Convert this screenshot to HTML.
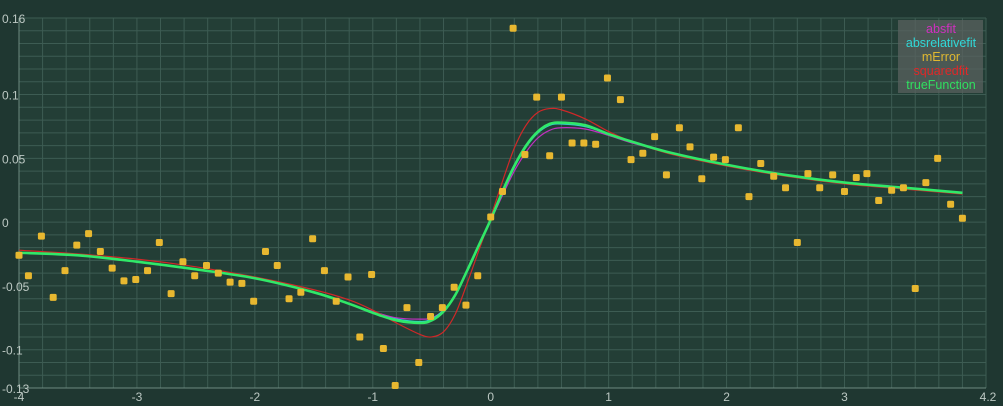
<!DOCTYPE html>
<html><head><meta charset="utf-8"><style>
html,body{margin:0;padding:0;background:#1e3530;}
svg{display:block;font-family:"Liberation Sans",sans-serif;}
</style></head><body>
<svg id="chart" width="1003" height="406" xmlns="http://www.w3.org/2000/svg">
<rect x="0" y="0" width="1003" height="406" fill="#1f3731"/>
<rect x="19" y="18" width="967" height="370" fill="#233e36"/>
<g id="grid"></g>
<g id="axes"></g>
<g id="series"></g>
<g id="points"></g>
<g>
<rect x="898" y="20" width="85" height="73" fill="#5a625f" fill-opacity="0.75"/>
<text x="941" y="33" fill="#d030c0" font-size="12.5" text-anchor="middle">absfit</text>
<text x="941" y="47" fill="#30d8d8" font-size="12.5" text-anchor="middle">absrelativefit</text>
<text x="941" y="61" fill="#e0b830" font-size="12.5" text-anchor="middle">mError</text>
<text x="941" y="75" fill="#e02828" font-size="12.5" text-anchor="middle">squaredfit</text>
<text x="941" y="89" fill="#30e060" font-size="12.5" text-anchor="middle">trueFunction</text>
</g>
</svg>
<script>
const curveX=[-4,-3.5,-3,-2.5,-2,-1.5,-1.2,-1,-0.8,-0.6,-0.5,-0.4,-0.3,-0.2,-0.1,0,0.1,0.2,0.3,0.4,0.5,0.6,0.8,1,1.2,1.5,2,2.5,3,3.5,4.0];
const trueY=[-0.024,-0.026,-0.031,-0.037,-0.044,-0.055,-0.064,-0.071,-0.077,-0.079,-0.077,-0.070,-0.057,-0.038,-0.018,0.002,0.024,0.044,0.060,0.071,0.077,0.078,0.076,0.069,0.063,0.055,0.045,0.037,0.031,0.027,0.023];
const absY=[-0.024,-0.026,-0.031,-0.037,-0.044,-0.055,-0.064,-0.070,-0.075,-0.076,-0.075,-0.069,-0.057,-0.039,-0.019,0.001,0.021,0.040,0.055,0.066,0.072,0.074,0.073,0.068,0.062,0.055,0.045,0.037,0.031,0.027,0.023];
const absRelY=[-0.024,-0.026,-0.031,-0.037,-0.044,-0.055,-0.064,-0.071,-0.076,-0.078,-0.076,-0.069,-0.057,-0.038,-0.018,0.002,0.023,0.043,0.059,0.070,0.076,0.077,0.075,0.069,0.063,0.055,0.045,0.037,0.031,0.027,0.023];
const sqY=[-0.022,-0.025,-0.029,-0.035,-0.043,-0.053,-0.061,-0.069,-0.079,-0.088,-0.090,-0.086,-0.072,-0.048,-0.022,0.004,0.032,0.058,0.076,0.086,0.089,0.088,0.081,0.071,0.063,0.054,0.044,0.036,0.030,0.026,0.022];
const ptX=[-4.0,-3.92,-3.81,-3.71,-3.61,-3.51,-3.41,-3.31,-3.21,-3.11,-3.01,-2.91,-2.81,-2.71,-2.61,-2.51,-2.41,-2.31,-2.21,-2.11,-2.01,-1.91,-1.81,-1.71,-1.61,-1.51,-1.41,-1.31,-1.21,-1.11,-1.01,-0.91,-0.81,-0.71,-0.61,-0.51,-0.41,-0.31,-0.21,-0.11,0.0,0.10,0.19,0.29,0.39,0.50,0.60,0.69,0.79,0.89,0.99,1.10,1.19,1.29,1.39,1.49,1.60,1.69,1.79,1.89,1.99,2.10,2.19,2.29,2.40,2.50,2.60,2.69,2.79,2.90,3.00,3.10,3.19,3.29,3.40,3.50,3.60,3.69,3.79,3.90,4.00];
const ptY=[-0.026,-0.042,-0.011,-0.059,-0.038,-0.018,-0.009,-0.023,-0.036,-0.046,-0.045,-0.038,-0.016,-0.056,-0.031,-0.042,-0.034,-0.040,-0.047,-0.048,-0.062,-0.023,-0.034,-0.060,-0.055,-0.013,-0.038,-0.062,-0.043,-0.090,-0.041,-0.099,-0.128,-0.067,-0.110,-0.074,-0.067,-0.051,-0.065,-0.042,0.004,0.024,0.152,0.053,0.098,0.052,0.098,0.062,0.062,0.061,0.113,0.096,0.049,0.054,0.067,0.037,0.074,0.059,0.034,0.051,0.049,0.074,0.020,0.046,0.036,0.027,-0.016,0.038,0.027,0.037,0.024,0.035,0.038,0.017,0.025,0.027,-0.052,0.031,0.050,0.014,0.003];
const xTicks=[-4,-3,-2,-1,0,1,2,3];
const xTickLabels=["-4","-3","-2","-1","0","1","2","3"];
const yTicks=[0.16,0.1,0.05,0,-0.05,-0.1,-0.13];
const yTickLabels=["0.16","0.1","0.05","0","-0.05","-0.1","-0.13"];

const L=19,R=986,T=18,B=388,XMIN=-4,XMAX=4.2,YMIN=-0.13,YMAX=0.16;
const sx=v=>L+(v-XMIN)/(XMAX-XMIN)*(R-L);
const sy=v=>B-(v-YMIN)/(YMAX-YMIN)*(B-T);
const NS="http://www.w3.org/2000/svg";
function mk(tag,parent,attrs){const e=document.createElementNS(NS,tag);for(const k in attrs)e.setAttribute(k,attrs[k]);parent.appendChild(e);return e;}
const grid=document.getElementById('grid');
for(let i=0;i<=41;i++){const v=XMIN+i*0.2;const l=mk('line',grid,{x1:sx(v),x2:sx(v),y1:T,y2:B,stroke:'#3d5c53','stroke-width':1});

}
for(let i=0;i<=29;i++){const v=YMIN+i*0.01;const l=mk('line',grid,{x1:L,x2:R,y1:sy(v),y2:sy(v),stroke:'#3d5c53','stroke-width':1});

}
const axes=document.getElementById('axes');
const ax=mk('line',axes,{x1:L,x2:R,y1:B,y2:B,stroke:'#6d8a80'});


const ay=mk('line',axes,{x1:L,x2:L,y1:T,y2:B,stroke:'#6d8a80'});


xTicks.forEach((v,i)=>{const t=mk('text',axes,{x:sx(v),y:401,fill:'#bcc8c3','font-size':12,'text-anchor':'middle'});t.textContent=xTickLabels[i];

});
const t42=mk('text',axes,{x:988,y:401,fill:'#bcc8c3','font-size':12,'text-anchor':'middle'});t42.textContent='4.2';


yTicks.forEach((v,i)=>{const t=mk('text',axes,{x:2,y:sy(v)+5,fill:'#bcc8c3','font-size':12});t.textContent=yTickLabels[i];

});
function pathFor(xs,ys){const p=xs.map((x,i)=>[sx(x),sy(ys[i])]);let d='M'+p[0][0]+','+p[0][1];
for(let i=0;i<p.length-1;i++){const p0=p[i-1]||p[i],p1=p[i],p2=p[i+1],p3=p[i+2]||p2;
d+=' C'+(p1[0]+(p2[0]-p0[0])/6)+','+(p1[1]+(p2[1]-p0[1])/6)+' '+(p2[0]-(p3[0]-p1[0])/6)+','+(p2[1]-(p3[1]-p1[1])/6)+' '+p2[0]+','+p2[1];}return d;}
const ser=document.getElementById('series');
const defs=[[absY,'#c030c0',1.2,'absfit-line'],[absRelY,'#30d0d0',1.5,'absrelativefit-line'],[sqY,'#d02828',1.2,'squaredfit-line'],[trueY,'#30e868',2.6,'truefunction-line']];
defs.forEach(d=>{const p=mk('path',ser,{d:pathFor(curveX,d[0]),fill:'none',stroke:d[1],'stroke-width':d[2]});

});
const pts=document.getElementById('points');
ptX.forEach((x,i)=>{const r=mk('rect',pts,{x:sx(x)-3.5,y:sy(ptY[i])-3.5,width:7,height:7,rx:1.5,fill:'#e8b830'});

});
</script>
</body></html>
